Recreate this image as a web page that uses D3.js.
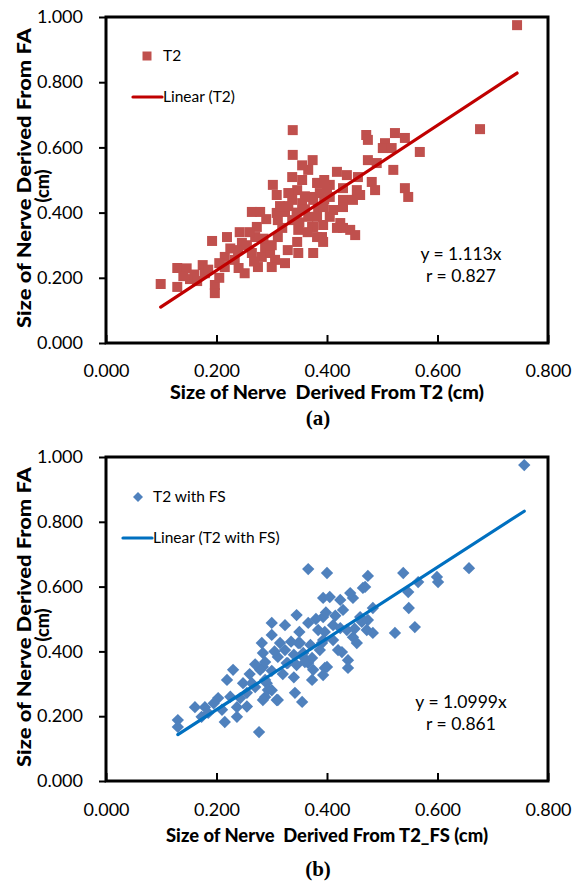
<!DOCTYPE html>
<html><head><meta charset="utf-8">
<script src="https://cdn.jsdelivr.net/npm/d3@7"></script>
<style>
html,body{margin:0;padding:0;background:#fff;}
svg{display:block;background:#fff;}
text{font-family:Lato,"Open Sans",sans-serif;fill:#000;}
</style></head><body>
<svg id="c" width="576" height="891"></svg>
<script>
// ---- data ----
const t2X=[0.099,0.129,0.129,0.146,0.152,0.175,0.179,0.197,0.197,0.215,0.215,0.192,0.219,0.242,0.246,0.239,0.233,0.251,0.264,0.279,
0.273,0.270,0.264,0.282,0.288,0.297,0.306,0.324,0.275,0.300,0.302,0.309,0.309,0.311,0.319,0.324,0.337,0.338,0.338,0.337,
0.355,0.374,0.366,0.384,0.346,0.337,0.355,0.373,0.384,0.366,0.348,0.373,0.391,0.346,0.348,0.375,0.329,0.311,0.677,0.471,
0.474,0.523,0.541,0.505,0.501,0.517,0.568,0.474,0.490,0.520,0.481,0.487,0.541,0.547,0.418,0.436,0.456,0.405,0.429,0.454,
0.460,0.382,0.387,0.405,0.429,0.447,0.375,0.393,0.411,0.429,0.382,0.405,0.424,0.375,0.393,0.429,0.442,0.451,0.382,0.393,
0.744,0.418,0.160,0.185,0.205,0.225,0.255,0.260,0.285,0.300,0.315,0.330,0.345,0.360,0.360,0.395,0.400,0.350,0.365,0.330,
0.355,0.395,0.290,0.268,0.240,0.165,0.140,0.205];
const t2Y=[0.181,0.230,0.172,0.229,0.196,0.239,0.214,0.178,0.153,0.264,0.233,0.313,0.325,0.340,0.307,0.285,0.255,0.214,0.402,0.402,
0.356,0.325,0.276,0.264,0.294,0.276,0.255,0.245,0.233,0.233,0.485,0.454,0.399,0.377,0.353,0.402,0.377,0.653,0.577,0.509,
0.500,0.561,0.531,0.491,0.469,0.439,0.429,0.448,0.417,0.387,0.347,0.356,0.325,0.310,0.276,0.276,0.285,0.325,0.656,0.638,
0.623,0.644,0.629,0.613,0.598,0.598,0.586,0.561,0.552,0.531,0.494,0.469,0.475,0.448,0.525,0.515,0.509,0.485,0.475,0.469,
0.454,0.491,0.460,0.448,0.439,0.439,0.439,0.417,0.408,0.417,0.387,0.387,0.368,0.356,0.362,0.353,0.347,0.331,0.325,0.310,
0.975,0.353,0.210,0.225,0.245,0.290,0.300,0.340,0.320,0.300,0.420,0.420,0.400,0.410,0.450,0.440,0.470,0.370,0.340,0.460,
0.545,0.500,0.380,0.250,0.230,0.190,0.205,0.200];

const fsX=[0.130,0.130,0.161,0.179,0.173,0.203,0.215,0.219,0.230,0.237,0.237,0.248,0.255,0.264,0.277,0.282,0.284,0.291,0.288,0.300,
0.311,0.315,0.324,0.327,0.342,0.355,0.345,0.348,0.357,0.366,0.366,0.373,0.400,0.393,0.405,0.393,0.400,0.366,0.243,0.284,
0.288,0.279,0.288,0.293,0.284,0.300,0.309,0.311,0.324,0.329,0.351,0.357,0.360,0.345,0.375,0.384,0.391,0.398,0.396,0.373,
0.474,0.538,0.599,0.601,0.657,0.565,0.547,0.465,0.548,0.559,0.523,0.483,0.474,0.472,0.463,0.460,0.447,0.442,0.424,0.429,
0.411,0.424,0.436,0.447,0.396,0.393,0.411,0.420,0.454,0.427,0.438,0.438,0.393,0.387,0.469,0.483,0.757,0.195,0.225,0.260,
0.270,0.270,0.300,0.305,0.320,0.335,0.340,0.350,0.370,0.380,0.415,0.450,0.255,0.300,0.340,0.210,0.185];
const fsY=[0.188,0.167,0.228,0.228,0.198,0.256,0.182,0.312,0.343,0.198,0.228,0.302,0.272,0.302,0.151,0.426,0.352,0.302,0.259,0.488,
0.250,0.426,0.481,0.364,0.272,0.244,0.512,0.426,0.383,0.488,0.654,0.312,0.642,0.565,0.568,0.506,0.352,0.364,0.256,0.395,
0.367,0.343,0.312,0.281,0.250,0.451,0.250,0.383,0.404,0.364,0.426,0.395,0.367,0.358,0.343,0.466,0.426,0.520,0.349,0.380,
0.633,0.642,0.630,0.614,0.657,0.614,0.583,0.596,0.534,0.475,0.457,0.534,0.497,0.466,0.491,0.506,0.565,0.580,0.559,0.528,
0.481,0.472,0.466,0.444,0.460,0.435,0.435,0.404,0.426,0.398,0.373,0.349,0.327,0.404,0.599,0.457,0.975,0.240,0.260,0.330,
0.290,0.360,0.340,0.400,0.330,0.430,0.390,0.460,0.420,0.500,0.510,0.470,0.230,0.280,0.320,0.220,0.210];

const xTicks=[0,0.2,0.4,0.6,0.8];
const yTicks=[0,0.2,0.4,0.6,0.8,1.0];
const slopes=[1.113,1.0999];
const seriesNames=["T2","T2 with FS"];
const trendNames=["Linear (T2)","Linear (T2 with FS)"];
const eqTexts=["y = 1.113x","y = 1.0999x"];
const rTexts=["r = 0.827","r = 0.861"];
const xTitles=["Size of Nerve  Derived From T2 (cm)","Size of Nerve  Derived From T2_FS (cm)"];
const yTitle1="Size of Nerve Derived From FA";
const yTitle2="(cm)";
const panelTags=["(a)","(b)"];

// ---- layout / style ----
const svg=d3.select("#c");
const L=106,R=548;
const panels=[
 {xs:t2X,ys:t2Y,top:17,bottom:343,pt:"#C0504D",ln:"#C00000",shape:"square",
  leg:{mx:147,my:56,tx:163,ty:61,lx1:133,lx2:162,ly:97,ltx:163,lty:102},
  eq:{x:461,y1:260,y2:282},tickY:377,titleY:399,tagY:425},
 {xs:fsX,ys:fsY,top:457,bottom:781,pt:"#4F81BD",ln:"#0070C0",shape:"diamond",
  leg:{mx:138,my:497,tx:153,ty:502,lx1:123,lx2:152,ly:538,ltx:153,lty:543},
  eq:{x:461,y1:708,y2:730},tickY:816,titleY:842,tagY:876}
];
const fmt=d3.format(".3f");

panels.forEach((p,i)=>{
  const g=svg.append("g");
  const x=d3.scaleLinear().domain([0,0.8]).range([L,R]);
  const y=d3.scaleLinear().domain([0,1]).range([p.bottom,p.top]);
  const sq=d3.symbol().type(d3.symbolSquare).size(100);
  const dm=d3.symbol().type(d3.symbolSquare).size(76);
  const pts=d3.zip(p.xs,p.ys);
  g.selectAll("path.pt").data(pts).join("path").attr("class","pt")
    .attr("transform",d=>`translate(${x(d[0])},${y(d[1])})`+(p.shape==="diamond"?" rotate(45)":""))
    .attr("d",p.shape==="diamond"?dm:sq).attr("fill",p.pt);
  // trend line
  const ext=d3.extent(p.xs);
  g.append("line").attr("x1",x(ext[0])).attr("y1",y(slopes[i]*ext[0]))
    .attr("x2",x(ext[1])).attr("y2",y(slopes[i]*ext[1]))
    .attr("stroke",p.ln).attr("stroke-width",3.2).attr("stroke-linecap","round");
  // y axis
  const ya=g.append("g").attr("transform",`translate(${L},0)`)
    .call(d3.axisLeft(y).tickValues(yTicks).tickFormat(fmt).tickSize(7).tickPadding(16));
  ya.select(".domain").remove();
  ya.selectAll("line").attr("stroke","#000").attr("stroke-width",2);
  ya.selectAll("text").attr("font-size",18).attr("font-family","Lato").attr("fill","#000");
  // x axis
  const xa=g.append("g").attr("transform",`translate(0,${p.bottom})`)
    .call(d3.axisBottom(x).tickValues(xTicks).tickFormat(fmt).tickSize(-8));
  xa.select(".domain").remove();
  xa.selectAll("line").attr("stroke","#000").attr("stroke-width",2);
  xa.selectAll("text").attr("font-size",18).attr("font-family","Lato").attr("fill","#000")
    .attr("y",p.tickY-p.bottom).attr("dy",0);
  // frame
  g.append("rect").attr("x",L).attr("y",p.top).attr("width",R-L).attr("height",p.bottom-p.top)
    .attr("fill","none").attr("stroke","#000").attr("stroke-width",3);
  // legend
  const lg=p.leg;
  if(p.shape==="diamond"){
    g.append("path").attr("transform",`translate(${lg.mx},${lg.my}) rotate(45)`)
      .attr("d",d3.symbol().type(d3.symbolSquare).size(50)).attr("fill",p.pt);
  } else {
    g.append("path").attr("transform",`translate(${lg.mx},${lg.my})`)
      .attr("d",d3.symbol().type(d3.symbolSquare).size(81)).attr("fill",p.pt);
  }
  g.append("text").attr("x",lg.tx).attr("y",lg.ty).attr("font-size",15.5).text(seriesNames[i]);
  g.append("line").attr("x1",lg.lx1).attr("x2",lg.lx2).attr("y1",lg.ly).attr("y2",lg.ly)
    .attr("stroke",p.ln).attr("stroke-width",3.2).attr("stroke-linecap","round");
  g.append("text").attr("x",lg.ltx).attr("y",lg.lty).attr("font-size",15.5).text(trendNames[i]);
  // equation
  g.append("text").attr("x",p.eq.x).attr("y",p.eq.y1).attr("text-anchor","middle").attr("font-size",17.5).text(eqTexts[i]);
  g.append("text").attr("x",p.eq.x).attr("y",p.eq.y2).attr("text-anchor","middle").attr("font-size",17.5).text(rTexts[i]);
  // axis titles
  g.append("text").attr("x",(L+R)/2).attr("y",p.titleY).attr("text-anchor","middle")
    .attr("font-size",18).attr("font-weight","900").style("white-space","pre")
    .attr("textLength",xTitles[i].length>36?322:314).attr("lengthAdjust","spacingAndGlyphs").text(xTitles[i]);
  const cy=(p.top+p.bottom)/2-2;
  g.append("text").attr("transform",`translate(31,${cy}) rotate(-90)`).attr("text-anchor","middle")
    .attr("font-size",18).attr("font-weight","900").attr("textLength",300).attr("lengthAdjust","spacingAndGlyphs").text(yTitle1);
  g.append("text").attr("transform",`translate(49,${cy+8}) rotate(-90)`).attr("text-anchor","middle")
    .attr("font-size",18).attr("font-weight","900").text(yTitle2);
  // panel tag
  g.append("text").attr("x",318).attr("y",p.tagY).attr("text-anchor","middle")
    .style("font-family","'Liberation Serif','Times New Roman',serif").attr("font-size",21).attr("font-weight","bold").text(panelTags[i]);
});
</script>
</body></html>
